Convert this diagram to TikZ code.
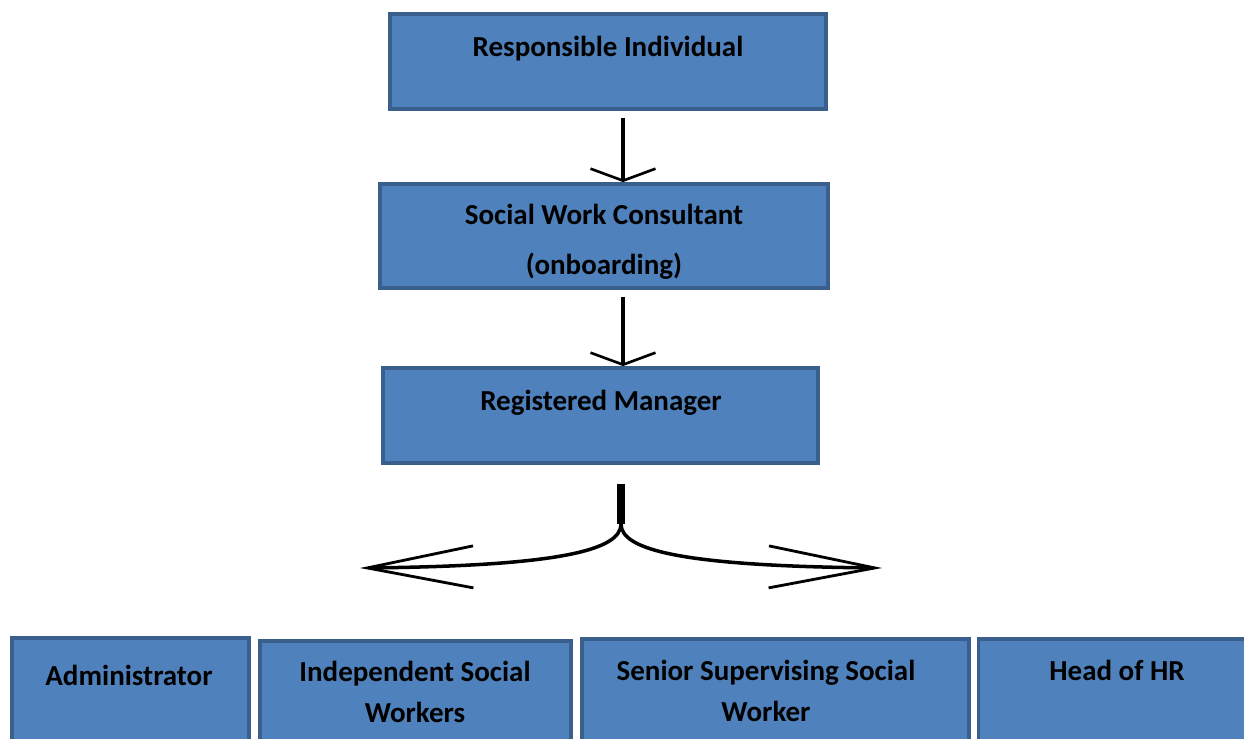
\documentclass[tikz,border=0pt]{standalone}
\usepackage{fontspec}
\setmainfont{Carlito}
\usetikzlibrary{arrows.meta}
\usetikzlibrary{positioning}

\definecolor{boxfill}{HTML}{4F81BD}
\definecolor{boxline}{HTML}{3A5F8C}

\begin{document}
\begin{tikzpicture}[x=0.02cm, y=-0.02cm,
    box/.style={draw=boxline, fill=boxfill, line width=2.2pt, inner sep=0pt},
    lbl/.style={font=\bfseries\fontsize{16.5}{28}\selectfont, align=center, anchor=base, inner sep=0pt},
    lowlbl/.style={lbl, font=\bfseries\fontsize{16.5}{23}\selectfont},
    arr/.style={line width=2pt, -{Straight Barb[length=0.24cm, width=1.3cm, line width=1.5pt]}},
    split/.style={line width=2pt, -{Straight Barb[length=2.12cm, width=0.84cm, line width=1.6pt]}}]
    \useasboundingbox (0,0) rectangle (1244,738);

    % Top of the chart
    \node[box, minimum width=8.72cm, minimum height=1.90cm] (ri) at (608,61.5) {};
    \node[lbl] (rit) at (608,56) {Responsible Individual};

    \node[box, minimum width=8.96cm, minimum height=2.08cm] (swc) at (604,236) {};
    \node[lbl] (swct) at (604,274) {Social Work Consultant\\(onboarding)};

    \node[box, minimum width=8.70cm, minimum height=1.90cm] (rm) at (600.5,415.5) {};
    \node[lbl] (rmt) at (601,410) {Registered Manager};

    % Arrows down the chain
    \coordinate (arrx) at (623,0);
    \draw[arr, shorten <=4pt] (ri.south -| arrx) -- (swc.north -| arrx);
    \draw[arr, shorten <=4pt] (swc.south -| arrx) -- (rm.north -| arrx);

    % Split towards the staff boxes
    \coordinate (stem) at (621,484);
    \coordinate (fork) at (621,524);
    \coordinate (lefttip) at (360,568);
    \coordinate (righttip) at (882,568);
    \draw[line width=4.5pt] (stem) -- (fork);
    \draw[split] (fork) .. controls (621,550) and (560,566) .. (lefttip);
    \draw[split] (fork) .. controls (621,550) and (682,566) .. (righttip);

    % Staff boxes
    \node[box, minimum width=4.74cm, minimum height=2.20cm] (adm) at (130.5,693) {};
    \node[lowlbl] (admt) at (129,685) {Administrator};

    \node[box, minimum width=6.22cm, minimum height=2.20cm] (isw) at (415.5,696) {};
    \node[lowlbl] (iswt) at (415,722) {Independent Social\\Workers};

    \node[box, minimum width=7.74cm, minimum height=2.20cm] (sss) at (775.5,694) {};
    \node[lowlbl] (ssst) at (766,721) {Senior Supervising Social\\Worker};

    \node[box, minimum width=5.60cm, minimum height=2.20cm] (hhr) at (1118.5,694) {};
    \node[lowlbl] (hhrt) at (1117,680) {Head of HR};
\end{tikzpicture}
\end{document}
